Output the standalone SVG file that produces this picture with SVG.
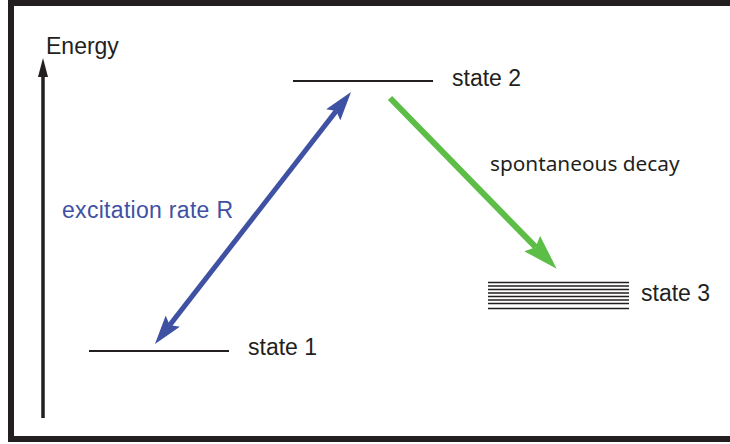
<svg xmlns="http://www.w3.org/2000/svg" width="730" height="444" viewBox="0 0 730 444">
<style>
.lbl{font-family:"Liberation Sans",Arial,sans-serif;font-size:23px;fill:#231f20}
.hum{font-family:"Noto Sans","Open Sans",sans-serif;font-size:20.8px;fill:#231f20}
.lvl{stroke:#231f20;stroke-width:2;fill:none}
.lvl3{stroke:#231f20;stroke-width:1.6;fill:none}
</style>
<defs>
<marker id="hb" viewBox="0 0 29 18" refX="5" refY="9" markerWidth="29" markerHeight="18" markerUnits="userSpaceOnUse" orient="auto-start-reverse">
<path d="M0,0 L29,9 L0,18 L5,9 z" fill="#3f51a3"/>
</marker>
<marker id="hg" viewBox="0 0 35 22" refX="5" refY="11" markerWidth="35" markerHeight="22" markerUnits="userSpaceOnUse" orient="auto">
<path d="M0,0 L35,11 L0,22 L5,11 z" fill="#5cbd47"/>
</marker>
<marker id="hk" viewBox="0 0 19 10" refX="1" refY="5" markerWidth="19" markerHeight="10" markerUnits="userSpaceOnUse" orient="auto">
<path d="M0,0 L19,5 L0,10 z" fill="#231f20"/>
</marker>
</defs>
<rect x="0" y="0" width="730" height="444" fill="#ffffff"/>
<rect id="frame" x="11" y="3" width="800" height="436" fill="none" stroke="#231f20" stroke-width="6"/>
<g id="energy-axis">
<line x1="43" y1="418" x2="43" y2="76" stroke="#231f20" stroke-width="3.5" marker-end="url(#hk)"/>
<text class="lbl" x="46" y="54">Energy</text>
</g>
<g id="state1">
<line class="lvl" x1="89" y1="351" x2="229" y2="351"/>
<text class="lbl" x="248" y="355">state 1</text>
</g>
<g id="state2">
<line class="lvl" x1="293" y1="81" x2="433" y2="81"/>
<text class="lbl" x="452" y="86">state 2</text>
</g>
<g id="state3">
<g class="lvl3">
<line x1="488" y1="282.5" x2="629" y2="282.5"/>
<line x1="488" y1="286" x2="629" y2="286"/>
<line x1="488" y1="289.5" x2="629" y2="289.5"/>
<line x1="488" y1="293" x2="629" y2="293"/>
<line x1="488" y1="296.5" x2="629" y2="296.5"/>
<line x1="488" y1="300" x2="629" y2="300"/>
<line x1="488" y1="303.5" x2="629" y2="303.5"/>
<line x1="488" y1="308.5" x2="629" y2="308.5"/>
</g>
<text class="lbl" x="641" y="301">state 3</text>
</g>
<g id="connectors">
<line x1="169.7" y1="325.1" x2="336.3" y2="110.9" stroke="#3f51a3" stroke-width="5" marker-start="url(#hb)" marker-end="url(#hb)"/>
<line x1="390" y1="98" x2="535.7" y2="247.2" stroke="#5cbd47" stroke-width="6" marker-end="url(#hg)"/>
<text x="62" y="218" font-family="Liberation Sans, Arial, sans-serif" font-size="23" fill="#3f51a3" textLength="171">excitation rate R</text>
<text class="hum" x="490" y="171">spontaneous decay</text>
</g>
</svg>
